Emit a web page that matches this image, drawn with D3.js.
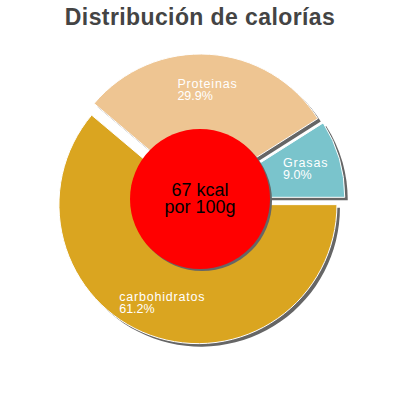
<!DOCTYPE html>
<html>
<head>
<meta charset="utf-8">
<script src="https://cdn.jsdelivr.net/npm/d3@7"></script>
<style>
  body { margin: 0; background: #fff; }
  svg { display: block; }
</style>
</head>
<body>
<div id="chart"></div>
<script>
// données
const categories = ["Grasas", "Proteinas", "carbohidratos"];
const percents = [9.0, 29.9, 61.2];
const colors = ["#7ac4cc", "#eec592", "#daa520"];
const title = "Distribución de calorías";
const center_lines = ["67 kcal", "por 100g"];

const width = 400, height = 400;
const cx = 200, cy = 199;
const radius = 139;
const explode = 6;
const label_dist = 104;
const shadow = 3;

const svg = d3.select("#chart").append("svg")
    .attr("width", width)
    .attr("height", height);

svg.append("text")
    .attr("x", width / 2)
    .attr("y", 25)
    .attr("text-anchor", "middle")
    .attr("font-family", "Liberation Sans, Arial, sans-serif")
    .attr("font-weight", "bold")
    .attr("font-size", 23)
    .attr("letter-spacing", 0.4)
    .attr("fill", "#444")
    .text(title);

// le camembert part de 3h et tourne dans le sens inverse des aiguilles
const pie = d3.pie()
    .sort(null)
    .value(d => d)
    .startAngle(Math.PI / 2)
    .endAngle(Math.PI / 2 - 2 * Math.PI);

const arcs = pie(percents);
const arc = d3.arc().innerRadius(0).outerRadius(radius);

function offset(d) {
  const a = (d.startAngle + d.endAngle) / 2;
  return [Math.sin(a) * explode, -Math.cos(a) * explode];
}

const g = svg.append("g").attr("transform", `translate(${cx},${cy})`);

// ombres d'abord
g.append("g")
  .selectAll("path")
  .data(arcs)
  .join("path")
    .attr("d", arc)
    .attr("fill", "#666")
    .attr("transform", d => {
      const [dx, dy] = offset(d);
      return `translate(${dx + shadow},${dy + shadow})`;
    });

g.append("g")
  .selectAll("path")
  .data(arcs)
  .join("path")
    .attr("d", arc)
    .attr("fill", (d, i) => colors[i])
    .attr("stroke", "#fff")
    .attr("stroke-width", 1)
    .attr("transform", d => {
      const [dx, dy] = offset(d);
      return `translate(${dx},${dy})`;
    });

// étiquettes : bloc centré sur le centroïde, texte aligné à gauche
const labels = g.append("g")
  .selectAll("text")
  .data(arcs)
  .join("text")
    .attr("font-family", "Liberation Sans, Arial, sans-serif")
    .attr("font-size", 12.5)
    .attr("fill", "#fff");

labels.append("tspan")
    .attr("class", "name")
    .attr("letter-spacing", 0.8)
    .text((d, i) => categories[i]);

labels.append("tspan")
    .attr("class", "pct")
    .text(d => d.value.toFixed(1) + "%");

labels.each(function(d) {
  const a = (d.startAngle + d.endAngle) / 2;
  const [dx, dy] = offset(d);
  const px = dx + Math.sin(a) * label_dist;
  const py = dy - Math.cos(a) * label_dist;
  const t = d3.select(this);
  const w = t.select(".name").node().getComputedTextLength();
  const x0 = px - w / 2;
  t.select(".name").attr("x", x0).attr("y", py - 1.5);
  t.select(".pct").attr("x", x0).attr("y", py + 10.5);
});

// cercle central
g.append("circle")
    .attr("cx", 2)
    .attr("cy", 2)
    .attr("r", 70)
    .attr("fill", "#666");

g.append("circle")
    .attr("r", 70)
    .attr("fill", "#ff0000");

g.append("text")
    .attr("text-anchor", "middle")
    .attr("font-family", "Liberation Sans, Arial, sans-serif")
    .attr("font-size", 18)
    .attr("fill", "#000")
  .selectAll("tspan")
  .data(center_lines)
  .join("tspan")
    .attr("x", 0)
    .attr("y", (d, i) => -3 + i * 17)
    .text(d => d);
</script>
</body>
</html>
